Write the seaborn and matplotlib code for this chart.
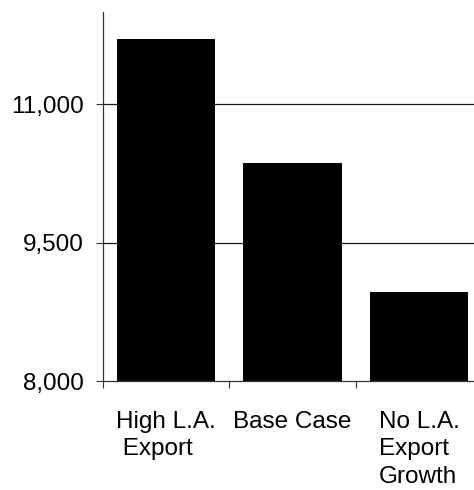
import matplotlib
matplotlib.use("Agg")
import matplotlib.pyplot as plt
import seaborn as sns
import pandas as pd
from matplotlib.ticker import FuncFormatter, FixedLocator

# Scenario outcomes
scenarios = ["High L.A.\n Export", "Base Case", "No L.A.\nExport\nGrowth"]
values = [11710, 10360, 8960]
y_ticks = [8000, 9500, 11000]

sns.set_theme(style="white")
plt.rcParams["font.family"] = ["Liberation Sans", "DejaVu Sans"]

df = pd.DataFrame({"scenario": scenarios, "value": values})

fig = plt.figure(figsize=(4.74, 4.90), dpi=100)
ax = fig.add_axes([0.2173, 0.2224, 0.8, 0.7531])

sns.barplot(data=df, x="scenario", y="value", color="black", saturation=1,
            width=0.78, edgecolor="none", ax=ax)

ax.set_ylim(8000, 12000)
ax.set_xlim(-0.5, 2.5)
ax.set_yticks(y_ticks)
ax.yaxis.set_major_formatter(FuncFormatter(lambda v, p: f"{int(v):,}"))

# horizontal reference lines behind the bars
for v in y_ticks[1:]:
    ax.axhline(v, color="#1a1a1a", lw=0.9, zorder=0)

# category labels at centres, tick marks at category boundaries
ax.xaxis.set_minor_locator(FixedLocator([-0.5, 0.5, 1.5, 2.5]))
ax.tick_params(axis="x", which="major", length=0, pad=21.5, labelsize=17.5)
ax.tick_params(axis="x", which="minor", length=5, width=0.8, color="#333333",
               direction="out", bottom=True)
ax.tick_params(axis="y", which="major", length=5, width=0.8, color="#333333",
               direction="out", left=True, pad=9, labelsize=17.5)
for lbl in ax.get_xticklabels():
    lbl.set_multialignment("left")
    lbl.set_linespacing(1.33)
    lbl.set_color("black")
for lbl in ax.get_yticklabels():
    lbl.set_color("black")

ax.set_xlabel("")
ax.set_ylabel("")
for side in ("top", "right"):
    ax.spines[side].set_visible(False)
for side in ("left", "bottom"):
    ax.spines[side].set_color("#333333")
    ax.spines[side].set_linewidth(0.9)

fig.savefig("out.png", dpi=100, facecolor="white")
